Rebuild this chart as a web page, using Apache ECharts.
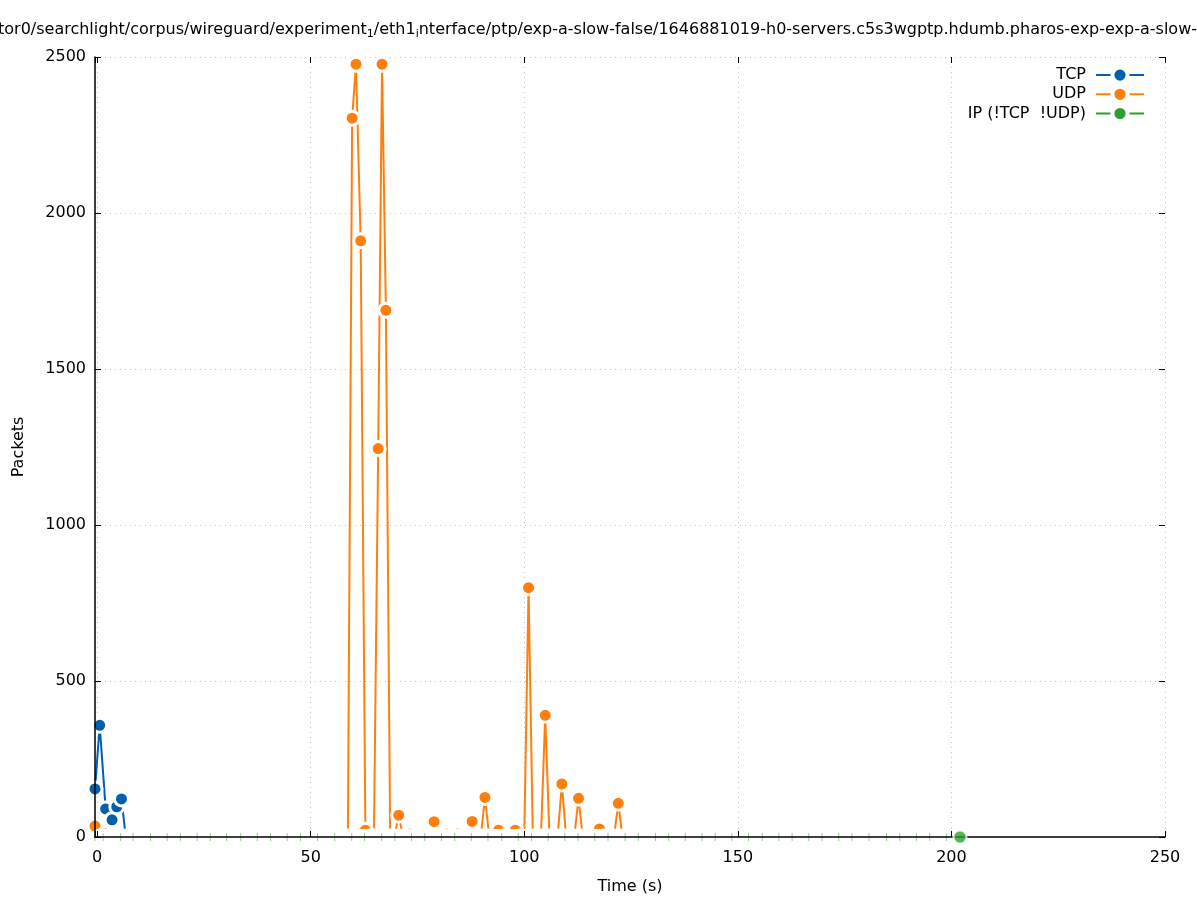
<!DOCTYPE html>
<html><head><meta charset="utf-8">
<script src="https://cdn.jsdelivr.net/npm/echarts@6/dist/echarts.min.js"></script>
<style>html,body{margin:0;padding:0;background:#fff}#c{width:1197px;height:900px}</style>
</head><body><div id="c"></div>
<script>
// ---- data ----
const titleParts = [
  ['tor0/searchlight/corpus/wireguard/experiment', 'n'],
  ['1', 's'],
  ['/eth1', 'n'],
  ['i', 's'],
  ['nterface/ptp/exp-a-slow-false/1646881019-h0-servers.c5s3wgptp.hdumb.pharos-exp-exp-a-slow-false', 'n']
];
const seriesNames = ['TCP', 'UDP', 'IP (!TCP  !UDP)'];
const xTicks = [0, 50, 100, 150, 200, 250];
const yTicks = [0, 500, 1000, 1500, 2000, 2500];

const tcpTime    = [-0.5, 0.6, 2.0, 3.5, 4.6, 5.7, 6.7];
const tcpPackets = [154, 358, 90, 55, 97, 122, 0];

const udpTime = [-0.5, 0.6, 2.0, 3.0, 58.7, 59.7, 60.6, 61.7, 62.8, 63.8,
  64.8, 65.8, 66.7, 67.6, 68.6, 69.6, 70.6, 71.6, 72.2, 73.2,
  74.2, 77.9, 78.9, 79.9, 80.8, 81.8, 82.8, 83.4, 84.4, 85.4,
  86.8, 87.8, 88.8, 89.8, 90.8, 91.8, 93.0, 94.0, 95.0, 96.9,
  97.9, 98.9, 100.0, 101.0, 102.0, 103.9, 104.9, 105.9, 107.8, 108.8,
  109.8, 111.7, 112.7, 113.7, 116.6, 117.6, 118.6, 121.0, 122.0, 123.0];
const udpPackets = [35, 0, 10, 0, 0, 2304, 2477, 1911, 22, 0,
  0, 1245, 2477, 1688, 0, 0, 70, 0, 0, 10,
  0, 0, 49, 0, 0, 10, 0, 0, 10, 0,
  0, 50, 0, 0, 127, 0, 0, 22, 0, 0,
  22, 0, 0, 799, 0, 0, 390, 0, 0, 170,
  0, 0, 124, 0, 0, 26, 0, 0, 108, 0];

const ipTime = [-0.5, 1.4, 5.5, 8.4, 12.5, 16.4, 19.5, 23.4, 26.5, 30.3,
  33.6, 37.5, 40.6, 44.5, 47.6, 51.6, 55.6, 59.6, 62.6, 66.6,
  69.7, 73.6, 76.7, 80.6, 83.7, 87.6, 91.5, 94.7, 98.6, 101.7,
  105.6, 109.5, 112.6, 116.5, 119.6, 123.6, 126.7, 130.7, 133.8, 137.7,
  141.6, 144.7, 148.6, 152.5, 155.7, 159.6, 162.7, 166.6, 169.7, 173.6,
  176.7, 180.7, 184.8, 187.9, 191.8, 194.9, 198.8, 202.0];
const ipPackets = [0, 0, 0, 0, 0, 0, 0, 0, 0, 0,
  0, 0, 0, 0, 0, 0, 0, 0, 0, 0,
  0, 0, 0, 0, 0, 0, 0, 0, 0, 0,
  0, 0, 0, 0, 0, 0, 0, 0, 0, 0,
  0, 0, 0, 0, 0, 0, 0, 0, 0, 0,
  0, 0, 0, 0, 0, 0, 0, 0];

// ---- style ----
const FONT = 'DejaVu Sans';
const BLUE = '#0060ad', ORANGE = '#ff7f0e', GREEN = '#2ca02c';
const GRIDLINE = {show: true, lineStyle: {color: '#c4c4c4', width: 1, type: [1, 4]}};

const zip = (xs, ys) => xs.map((x, i) => [x, ys[i]]);
const titleText = titleParts.map(p => '{' + p[1] + '|' + p[0] + '}').join('');

const chart = echarts.init(document.getElementById('c'), null, {renderer: 'canvas'});
const lastIp = ipTime.length - 1;

chart.setOption({
  backgroundColor: '#ffffff',
  animation: false,
  graphic: [{
    type: 'text', x: -2, y: 30, z: 10,
    style: {
      text: titleText, align: 'left', verticalAlign: 'middle', fill: '#000',
      font: '16px "DejaVu Sans"',
      rich: {
        n: {fontSize: 16, fontFamily: FONT, lineHeight: 20, fill: '#000'},
        s: {fontSize: 11, fontFamily: FONT, lineHeight: 11, verticalAlign: 'bottom', fill: '#000'}
      }
    }
  }],
  grid: {left: 95, right: 32, top: 57, bottom: 62, containLabel: false},
  legend: {
    orient: 'vertical', right: 52, top: 65.5, align: 'right',
    itemWidth: 48, itemHeight: 19, itemGap: 0, padding: 0,
    selectedMode: false,
    itemStyle: {borderColor: '#fff', borderWidth: 4},
    textStyle: {fontSize: 16, fontFamily: FONT, color: '#000', lineHeight: 19, padding: [0, 5, 0, 0]},
    data: [
      {name: seriesNames[0]},
      {name: seriesNames[1]},
      {name: seriesNames[2], itemStyle: {color: GREEN, borderColor: '#fff', borderWidth: 4},
       lineStyle: {color: GREEN, width: 2}}
    ]
  },
  xAxis: [{
    type: 'value', min: -0.5, max: 250, position: 'bottom', z: 3,
    axisLine: {show: true, onZero: false, lineStyle: {color: '#000', width: 1.5}},
    axisTick: {show: true, inside: true, length: 6, lineStyle: {color: '#000', width: 1}},
    axisLabel: {color: '#000', fontSize: 16, fontFamily: FONT, margin: 13,
      formatter: v => xTicks.indexOf(v) >= 0 ? String(v) : ''},
    splitLine: {show: false},
    name: 'Time (s)', nameLocation: 'middle', nameGap: 42,
    nameTextStyle: {color: '#000', fontSize: 16, fontFamily: FONT}
  }, {
    type: 'value', min: -0.5, max: 250, position: 'top', z: 0,
    axisLine: {show: false, onZero: false},
    axisTick: {show: true, inside: true, length: 6, lineStyle: {color: '#000', width: 1}},
    axisLabel: {show: false},
    splitLine: GRIDLINE
  }],
  yAxis: [{
    type: 'value', min: 0, max: 2500, interval: 500, position: 'left', z: 3,
    axisLine: {show: true, onZero: false, lineStyle: {color: '#000', width: 1.5}},
    axisTick: {show: true, inside: true, length: 6, lineStyle: {color: '#000', width: 1}},
    axisLabel: {color: '#000', fontSize: 16, fontFamily: FONT, margin: 9,
      formatter: v => yTicks.indexOf(v) >= 0 ? String(v) : ''},
    splitLine: {show: false},
    name: 'Packets', nameLocation: 'middle', nameGap: 68, nameRotate: 90,
    nameTextStyle: {color: '#000', fontSize: 16, fontFamily: FONT}
  }, {
    type: 'value', min: 0, max: 2500, interval: 500, position: 'right', z: 0,
    axisLine: {show: false, onZero: false},
    axisTick: {show: true, inside: true, length: 6, lineStyle: {color: '#000', width: 1}},
    axisLabel: {show: false},
    splitLine: GRIDLINE
  }],
  series: [{
    type: 'line', name: seriesNames[0], xAxisIndex: 0, yAxisIndex: 0, z: 2,
    data: zip(tcpTime, tcpPackets), clip: true,
    symbol: 'circle', symbolSize: 14, showSymbol: true,
    lineStyle: {color: BLUE, width: 2},
    itemStyle: {color: BLUE, borderColor: '#fff', borderWidth: 3}
  }, {
    type: 'line', name: seriesNames[1], xAxisIndex: 0, yAxisIndex: 0, z: 2,
    data: zip(udpTime, udpPackets), clip: true,
    symbol: 'circle', symbolSize: 14, showSymbol: true,
    lineStyle: {color: ORANGE, width: 2},
    itemStyle: {color: ORANGE, borderColor: '#fff', borderWidth: 3}
  }, {
    type: 'line', name: seriesNames[2], xAxisIndex: 0, yAxisIndex: 0, z: 2.5,
    clip: true, symbol: 'circle', symbolSize: 14, showSymbol: true,
    data: ipTime.map((t, i) => ({
      value: [t, ipPackets[i]],
      symbol: i === lastIp ? 'none' : 'rect',
      symbolSize: [1, 8],
      itemStyle: {color: '#98cf98', borderWidth: 0}
    })),
    lineStyle: {color: '#ffffff', width: 16},
    itemStyle: {color: GREEN, borderColor: '#fff', borderWidth: 3}
  }, {
    type: 'scatter', name: 'ipLast', xAxisIndex: 0, yAxisIndex: 0, z: 4,
    data: [[ipTime[lastIp], ipPackets[lastIp]]],
    symbol: 'circle', symbolSize: 13,
    itemStyle: {color: GREEN, borderColor: '#fff', borderWidth: 2}
  }]
});
</script>
</body></html>
